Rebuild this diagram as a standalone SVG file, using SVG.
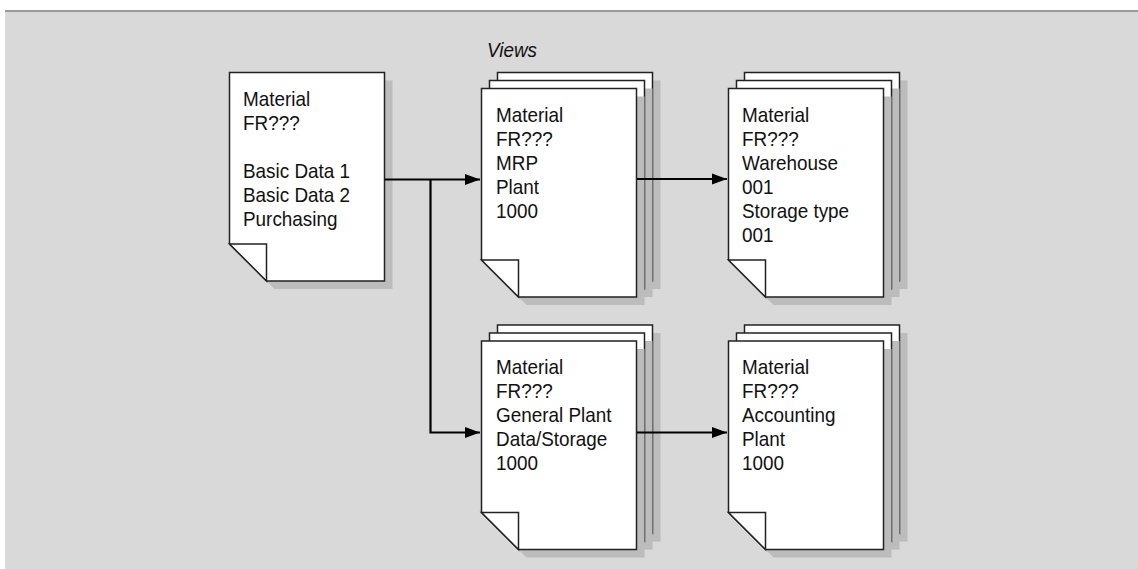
<svg xmlns="http://www.w3.org/2000/svg" width="1138" height="569" viewBox="0 0 1138 569">
<defs>
<style>
.pg{fill:#fff;stroke:#222;stroke-width:1.5}
.sh{fill:#bcbcbc}
.t{font-family:"Liberation Sans",Arial,sans-serif;font-size:21px;fill:#111}
.c{fill:none;stroke:#000;stroke-width:2.2}
</style>
<marker id="ah" markerWidth="15" markerHeight="12" refX="15" refY="6" orient="auto" markerUnits="userSpaceOnUse">
<path d="M0,0.5 L15,6 L0,11.5 Z" fill="#000"/>
</marker>
<path id="page" d="M0,0 H155 V208.5 H37 L0,171.5 Z"/>
</defs>
<rect x="0" y="0" width="1138" height="569" fill="#fff"/>
<rect x="5" y="12" width="1133" height="557" fill="#d9d9d9"/>
<rect x="5" y="10" width="1133" height="2" fill="#9a9a9a"/>

<text class="t" font-style="italic" transform="translate(487,57) scale(0.9 1)">Views</text>

<g id="basic">
<use href="#page" class="sh" x="237.5" y="80.5"/>
<use href="#page" class="pg" x="229.5" y="72.5"/>
<path class="pg" d="M229.5,244 H266.5 V281 Z"/>
<text class="t" transform="translate(243,106) scale(0.9 1)">Material</text>
<text class="t" transform="translate(243,130) scale(0.9 1)">FR???</text>
<text class="t" transform="translate(243,178) scale(0.9 1)">Basic Data 1</text>
<text class="t" transform="translate(243,202) scale(0.9 1)">Basic Data 2</text>
<text class="t" transform="translate(243,226) scale(0.9 1)">Purchasing</text>
</g>

<g id="mrp">
<use href="#page" class="sh" x="505.5" y="80.5"/>
<use href="#page" class="pg" x="497.5" y="72.5"/>
<use href="#page" class="sh" x="497.5" y="88.5"/>
<use href="#page" class="pg" x="489.5" y="80.5"/>
<use href="#page" class="sh" x="489.5" y="96.5"/>
<use href="#page" class="pg" x="481.5" y="88.5"/>
<path class="pg" d="M481.5,260 H518.5 V297 Z"/>
<text class="t" transform="translate(496,122) scale(0.9 1)">Material</text>
<text class="t" transform="translate(496,146) scale(0.9 1)">FR???</text>
<text class="t" transform="translate(496,170) scale(0.9 1)">MRP</text>
<text class="t" transform="translate(496,194) scale(0.9 1)">Plant</text>
<text class="t" transform="translate(496,218) scale(0.9 1)">1000</text>
</g>

<g id="warehouse">
<use href="#page" class="sh" x="752.5" y="80.5"/>
<use href="#page" class="pg" x="744.5" y="72.5"/>
<use href="#page" class="sh" x="744.5" y="88.5"/>
<use href="#page" class="pg" x="736.5" y="80.5"/>
<use href="#page" class="sh" x="736.5" y="96.5"/>
<use href="#page" class="pg" x="728.5" y="88.5"/>
<path class="pg" d="M728.5,260 H765.5 V297 Z"/>
<text class="t" transform="translate(742,122) scale(0.9 1)">Material</text>
<text class="t" transform="translate(742,146) scale(0.9 1)">FR???</text>
<text class="t" transform="translate(742,170) scale(0.9 1)">Warehouse</text>
<text class="t" transform="translate(742,194) scale(0.9 1)">001</text>
<text class="t" transform="translate(742,218) scale(0.9 1)">Storage type</text>
<text class="t" transform="translate(742,242) scale(0.9 1)">001</text>
</g>

<g id="general">
<use href="#page" class="sh" x="505.5" y="333"/>
<use href="#page" class="pg" x="497.5" y="325"/>
<use href="#page" class="sh" x="497.5" y="341"/>
<use href="#page" class="pg" x="489.5" y="333"/>
<use href="#page" class="sh" x="489.5" y="349"/>
<use href="#page" class="pg" x="481.5" y="341"/>
<path class="pg" d="M481.5,512.5 H518.5 V549.5 Z"/>
<text class="t" transform="translate(496,374) scale(0.9 1)">Material</text>
<text class="t" transform="translate(496,398) scale(0.9 1)">FR???</text>
<text class="t" transform="translate(496,422) scale(0.9 1)">General Plant</text>
<text class="t" transform="translate(496,446) scale(0.9 1)">Data/Storage</text>
<text class="t" transform="translate(496,470) scale(0.9 1)">1000</text>
</g>

<g id="accounting">
<use href="#page" class="sh" x="752.5" y="333"/>
<use href="#page" class="pg" x="744.5" y="325"/>
<use href="#page" class="sh" x="744.5" y="341"/>
<use href="#page" class="pg" x="736.5" y="333"/>
<use href="#page" class="sh" x="736.5" y="349"/>
<use href="#page" class="pg" x="728.5" y="341"/>
<path class="pg" d="M728.5,512.5 H765.5 V549.5 Z"/>
<text class="t" transform="translate(742,374) scale(0.9 1)">Material</text>
<text class="t" transform="translate(742,398) scale(0.9 1)">FR???</text>
<text class="t" transform="translate(742,422) scale(0.9 1)">Accounting</text>
<text class="t" transform="translate(742,446) scale(0.9 1)">Plant</text>
<text class="t" transform="translate(742,470) scale(0.9 1)">1000</text>
</g>

<g id="connectors">
<path class="c" d="M385,179.5 H480" marker-end="url(#ah)"/>
<path class="c" d="M430.5,179.5 V432.5 H480" marker-end="url(#ah)"/>
<path class="c" d="M637,179 H727" marker-end="url(#ah)"/>
<path class="c" d="M637,432.5 H727" marker-end="url(#ah)"/>
</g>
</svg>
